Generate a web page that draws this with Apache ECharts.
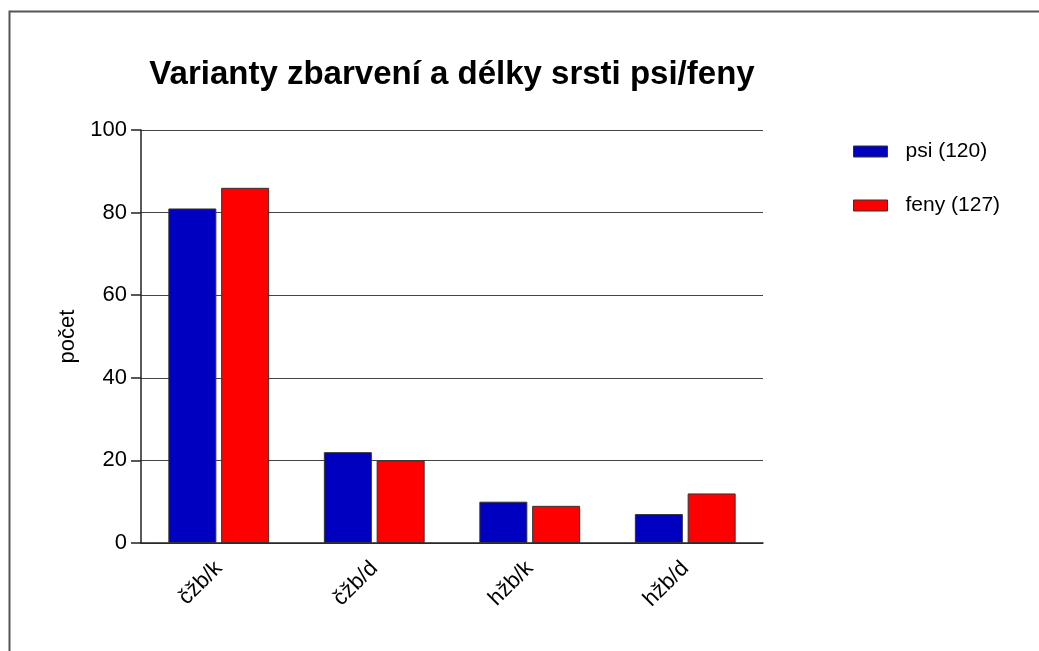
<!DOCTYPE html>
<html lang="cs">

<head>
    <meta charset="UTF-8">
    <title>Varianty zbarvení a délky srsti psi/feny</title>
    <script src="https://cdn.jsdelivr.net/npm/echarts@6/dist/echarts.min.js"></script>
    <style>
        html, body { margin: 0; padding: 0; background: #fff; }
        #chart { width: 1039px; height: 651px; }
    </style>
</head>

<body>
    <div id="chart"></div>

    <script>
        var categories = ['čžb/k', 'čžb/d', 'hžb/k', 'hžb/d'];
        var psi = [81, 22, 10, 7];
        var feny = [86, 20, 9, 12];
        var yTicks = [0, 20, 40, 60, 80, 100];

        var font = 'Liberation Sans, Arial, sans-serif';
        var chart = echarts.init(document.getElementById('chart'));

        chart.setOption({
            animation: false,
            backgroundColor: '#fff',
            textStyle: { fontFamily: font, color: '#000' },
            title: {
                text: 'Varianty zbarvení a délky srsti psi/feny',
                left: 452,
                textAlign: 'center',
                top: 58,
                padding: 0,
                textStyle: { fontFamily: font, fontSize: 33, fontWeight: 'bold', color: '#000' }
            },
            graphic: [{
                type: 'rect',
                shape: { x: 9.5, y: 11.5, width: 1100, height: 700 },
                style: { fill: 'none', stroke: '#555', lineWidth: 2 },
                silent: true
            }],
            legend: {
                orient: 'vertical',
                left: 853,
                top: 141,
                padding: 0,
                itemWidth: 34,
                itemHeight: 11,
                itemGap: 33,
                icon: 'rect',
                textStyle: { fontFamily: font, fontSize: 21, color: '#000', padding: [0, 0, 0, 13] },
                data: [
                    { name: 'psi (120)', itemStyle: { borderColor: '#333', borderWidth: 1 } },
                    { name: 'feny (127)', itemStyle: { borderColor: '#333', borderWidth: 1 } }
                ]
            },
            grid: { left: 141, right: 276, top: 130, bottom: 108 },
            xAxis: {
                type: 'category',
                data: categories,
                axisLine: { lineStyle: { color: '#222', width: 1.5 } },
                axisTick: { alignWithLabel: true, length: 9, lineStyle: { color: '#222', width: 1.5 } },
                axisLabel: { rotate: 45, margin: 22, fontSize: 22, color: '#000', fontFamily: font }
            },
            yAxis: {
                type: 'value',
                min: yTicks[0],
                max: yTicks[yTicks.length - 1],
                interval: 20,
                name: 'počet',
                nameLocation: 'middle',
                nameRotate: 90,
                nameGap: 62,
                nameTextStyle: { fontSize: 22, color: '#000', fontFamily: font },
                axisLine: { show: true, lineStyle: { color: '#222', width: 1.5 } },
                axisTick: { show: true, length: 10, lineStyle: { color: '#222', width: 1.5 } },
                axisLabel: { fontSize: 22, margin: 14, color: '#000', fontFamily: font },
                splitLine: { lineStyle: { color: '#444', width: 1.2 } }
            },
            series: [{
                name: 'psi (120)',
                type: 'bar',
                data: psi,
                barWidth: 48,
                barGap: '10%',
                itemStyle: { color: '#0000C0', borderColor: '#333', borderWidth: 1 }
            }, {
                name: 'feny (127)',
                type: 'bar',
                data: feny,
                barWidth: 48,
                barGap: '10%',
                itemStyle: { color: '#FF0000', borderColor: '#333', borderWidth: 1 }
            }]
        });
    </script>
</body>

</html>
